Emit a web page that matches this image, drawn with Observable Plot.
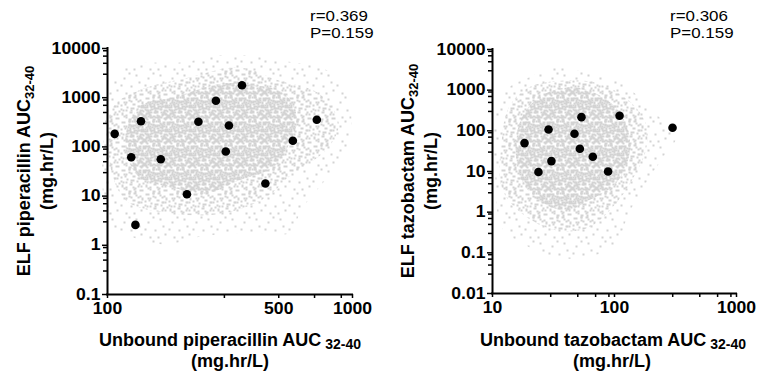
<!DOCTYPE html>
<html><head><meta charset="utf-8">
<script src="https://cdn.jsdelivr.net/npm/d3@7"></script>
<script src="https://cdn.jsdelivr.net/npm/@observablehq/plot@0.6"></script>
<style>
html,body{margin:0;padding:0;background:#fff;}
#wrap{position:relative;width:759px;height:373px;overflow:hidden;background:#fff;}
#wrap > svg{position:absolute;top:0;overflow:visible;}
</style></head><body>
<svg width="0" height="0" style="position:absolute;left:0;top:0">
<defs>
<g id="dotsA" fill="#d3d3d3"><rect x="1" y="1" width="2" height="2"/><rect x="8" y="3" width="2" height="2"/><rect x="12" y="7" width="2" height="2"/><rect x="21" y="5" width="2" height="2"/><rect x="6" y="10" width="2" height="2"/><rect x="16" y="12" width="2" height="2"/><rect x="22" y="14" width="2" height="2"/><rect x="1" y="16" width="2" height="2"/><rect x="12" y="18" width="2" height="2"/><rect x="19" y="21" width="2" height="2"/><rect x="8" y="22" width="2" height="2"/><rect x="14" y="22" width="2" height="2"/><rect x="4" y="7" width="2" height="2"/><rect x="17" y="4" width="2" height="2"/><rect x="9" y="15" width="2" height="2"/><rect x="20" y="9" width="2" height="2"/><rect x="3" y="19" width="2" height="2"/><rect x="13" y="0" width="2" height="2"/><rect x="10" y="11" width="2" height="2"/><rect x="17" y="17" width="2" height="2"/><rect x="5" y="13" width="2" height="2"/></g>
<g id="dotsB" fill="#d3d3d3"><rect x="0" y="3" width="2" height="2"/><rect x="4" y="1" width="2" height="2"/><rect x="7" y="6" width="2" height="2"/><rect x="11" y="0" width="2" height="2"/><rect x="14" y="4" width="2" height="2"/><rect x="17" y="7" width="2" height="2"/><rect x="22" y="1" width="2" height="2"/><rect x="20" y="10" width="2" height="2"/><rect x="2" y="8" width="2" height="2"/><rect x="9" y="9" width="2" height="2"/><rect x="13" y="11" width="2" height="2"/><rect x="16" y="15" width="2" height="2"/><rect x="22" y="18" width="2" height="2"/><rect x="3" y="13" width="2" height="2"/><rect x="6" y="15" width="2" height="2"/><rect x="10" y="14" width="2" height="2"/><rect x="1" y="20" width="2" height="2"/><rect x="5" y="18" width="2" height="2"/><rect x="10" y="20" width="2" height="2"/><rect x="13" y="19" width="2" height="2"/><rect x="16" y="20" width="2" height="2"/><rect x="20" y="22" width="2" height="2"/><rect x="18" y="17" width="2" height="2"/><rect x="18" y="2" width="2" height="2"/><rect x="6" y="3" width="2" height="2"/><rect x="10" y="5" width="2" height="2"/><rect x="15" y="9" width="2" height="2"/><rect x="21" y="13" width="2" height="2"/><rect x="0" y="10" width="2" height="2"/><rect x="7" y="12" width="2" height="2"/><rect x="12" y="15" width="2" height="2"/><rect x="19" y="15" width="2" height="2"/><rect x="2" y="16" width="2" height="2"/><rect x="7" y="20" width="2" height="2"/><rect x="22" y="20" width="2" height="2"/><rect x="19" y="5" width="2" height="2"/></g>
<pattern id="cloudSparse" patternUnits="userSpaceOnUse" width="24" height="24">
<g fill="#d3d3d3"><rect x="3" y="5" width="2" height="2"/><rect x="15" y="2" width="2" height="2"/><rect x="10" y="13" width="2" height="2"/><rect x="20" y="17" width="2" height="2"/><rect x="5" y="20" width="2" height="2"/><rect x="18" y="9" width="2" height="2"/><rect x="8" y="0" width="2" height="2"/><rect x="13" y="20" width="2" height="2"/><rect x="0" y="12" width="2" height="2"/></g>
</pattern>
<pattern id="cloudMid" patternUnits="userSpaceOnUse" width="24" height="24">
<use href="#dotsA"/>
<use href="#dotsA" transform="matrix(-1,0,0,-1,24,24)"/>
</pattern>
<pattern id="cloudCore" patternUnits="userSpaceOnUse" width="24" height="24">
<use href="#dotsB"/>
<use href="#dotsB" transform="matrix(-1,0,0,1,24,0)"/>
<use href="#dotsA" transform="matrix(1,0,0,-1,0,24)"/>
</pattern>
</defs></svg>
<div id="wrap"></div>
<script>
// ---------- Data ----------
// Observed patients, piperacillin panel
const pipObsX = [107, 137, 125, 165, 211, 130, 235, 277, 354, 313, 304, 441, 571, 715];
const pipObsY = [184, 333, 61.8, 56, 10.9, 2.6, 324, 865, 1795, 272, 80.7, 18, 133, 356];
// Observed patients, tazobactam panel
const tazObsX = [18.3, 28.8, 53.6, 110, 299, 47, 52, 66.4, 30.4, 23.8, 88.6];
const tazObsY = [49.9, 108, 217, 235, 119, 85, 36.3, 23.1, 18, 9.7, 10];

// Simulated cloud outlines (outer sparse / middle / dense core), piperacillin
const pipOuterX = [100.3, 111, 137, 199, 310, 510, 815, 966, 984, 896, 742, 615, 560, 385, 240, 173, 124.5, 101.2];
const pipOuterY = [877, 3251, 4955, 5192, 7551, 5702, 3251, 877, 215, 52.9, 16.4, 5.1, 1.82, 1.82, 1.51, 1.04, 1.51, 2.9];
const pipMidX = [105, 134, 215, 343, 500, 729, 879, 778, 570, 443, 295, 185, 119, 101.2];
const pipMidY = [632, 1401, 2575, 4111, 2237, 1217, 299, 84.5, 28.8, 9.4, 4.43, 4.43, 8.14, 60.9];
const pipCoreX = [119, 137, 185, 295, 403, 500, 570, 592, 534, 473, 343, 252, 185, 137, 122];
const pipCoreY = [187, 694, 1009, 1944, 1770, 1401, 762, 299, 84.5, 38.1, 20.7, 11.3, 15, 22.8, 52.9];

// Simulated cloud outlines, tazobactam
const tazOuterX = [10.6, 13.6, 19.8, 33, 61.5, 114.8, 191, 318, 263, 180.6, 131, 102.5, 61.5, 33, 17.4, 11.9, 10.6];
const tazOuterY = [268, 1165, 2051, 3611, 2573, 1462, 376, 68.8, 27.9, 5.1, 0.93, 0.171, 0.0775, 0.0775, 0.171, 0.42, 6.04];
const tazMidX = [11.9, 13.6, 19.8, 39.9, 74.3, 131, 180.6, 180.6, 138.6, 102.5, 61.5, 33, 17.4, 11.9];
const tazMidY = [58, 376, 1165, 1731, 1462, 558, 152, 33, 6.04, 1.64, 0.42, 0.357, 0.93, 4.07];
const tazCoreX = [24, 39.9, 61.5, 102.5, 131, 131, 102.5, 61.5, 39.9, 24, 17.4, 15.5, 17.4];
const tazCoreY = [662, 1165, 984, 376, 86.3, 22.2, 5.1, 1.95, 1.1, 1.95, 6.04, 33, 213];

// Axis ticks
const pipXMajor = [100, 500, 1000];
const pipXMinor = [300, 700, 900];
const pipYMajor = [0.1, 1, 10, 100, 1000, 10000];
const pipYMinor = [0.3, 0.5, 0.7, 0.9, 3, 5, 7, 9, 30, 50, 70, 90, 300, 500, 700, 900, 3000, 5000, 7000, 9000];
const tazXMajor = [10, 100, 1000];
const tazXMinor = [30, 50, 70, 90, 300, 500, 700, 900];
const tazYMajor = [0.01, 0.1, 1, 10, 100, 1000, 10000];
const tazYMinor = [0.03, 0.05, 0.07, 0.09, 0.3, 0.5, 0.7, 0.9, 3, 5, 7, 9, 30, 50, 70, 90, 300, 500, 700, 900, 3000, 5000, 7000, 9000];

// Texts
const pipStats = ["r=0.369", "P=0.159"];
const tazStats = ["r=0.306", "P=0.159"];

const zip = (xs, ys) => xs.map((x, i) => ({x, y: ys[i]}));

function panel({width, ml, mr, mt, mb, xDomain, yDomain, outer, mid, core, obs, xMajor, xMinor, yMajor, yMinor}) {
  const fmt = d => String(d);
  return Plot.plot({
    width, height: 373,
    marginLeft: ml, marginRight: mr, marginTop: mt, marginBottom: mb,
    style: {fontFamily: "'Liberation Sans', Arial, sans-serif", fontSize: "16px", fontWeight: "bold", color: "black", background: "transparent", overflow: "visible"},
    x: {type: "log", domain: xDomain, label: null},
    y: {type: "log", domain: yDomain, label: null},
    marks: [
      Plot.line(outer, {x: "x", y: "y", curve: "catmull-rom-closed", fill: "url(#cloudSparse)", stroke: "none"}),
      Plot.line(mid, {x: "x", y: "y", curve: "catmull-rom-closed", fill: "url(#cloudMid)", stroke: "none"}),
      Plot.line(core, {x: "x", y: "y", curve: "catmull-rom-closed", fill: "url(#cloudCore)", stroke: "none"}),
      Plot.dot(obs, {x: "x", y: "y", r: 4.3, fill: "black", stroke: "none"}),
      Plot.axisX({ticks: xMinor, tickSize: 4, tickFormat: () => "", strokeWidth: 1.5, label: null}),
      Plot.axisX({ticks: xMajor, tickSize: 4, tickPadding: 4, tickFormat: fmt, strokeWidth: 1.5, label: null}),
      Plot.axisY({ticks: yMinor, tickSize: 4, tickFormat: () => "", strokeWidth: 1.5, label: null}),
      Plot.axisY({ticks: yMajor, tickSize: 5, tickPadding: 2, tickFormat: fmt, strokeWidth: 1.5, label: null}),
      Plot.ruleX([xDomain[0]], {stroke: "black", strokeWidth: 2, strokeLinecap: "square"}),
      Plot.ruleY([yDomain[0]], {stroke: "black", strokeWidth: 2, strokeLinecap: "square"})
    ]
  });
}

// widen Plot's own tick labels horizontally, keeping their anchor point
function stretchTexts(svg, s) {
  d3.select(svg).selectAll("text").each(function() {
    const t = d3.select(this);
    if (!t.text()) return;
    let x = parseFloat(t.attr("x"));
    if (!isFinite(x)) x = 0;
    const tr = t.attr("transform") || "";
    t.attr("transform", `${tr} translate(${x},0) scale(${s},1) translate(${-x},0)`.trim());
  });
}

function addLabel(svg, {x, y, main, sub, size, subSize, subDy, rotate, sx, weight = "bold", anchor = "middle"}) {
  const t = d3.select(svg).append("text")
    .attr("transform", `translate(${x},${y})${rotate ? ` rotate(${rotate})` : ""} scale(${sx || 1},1)`)
    .attr("text-anchor", anchor)
    .attr("font-family", "'Liberation Sans', Arial, sans-serif")
    .attr("font-weight", weight)
    .attr("font-size", size)
    .attr("fill", "black");
  t.append("tspan").text(main);
  if (sub) t.append("tspan").attr("font-size", subSize).attr("dy", subDy).text(sub);
  return t;
}

const wrap = document.getElementById("wrap");

// ---------- Left panel: piperacillin ----------
const left = panel({
  width: 380, ml: 107, mr: 28, mt: 48, mb: 79,
  xDomain: [100, 1000], yDomain: [0.1, 10000],
  outer: zip(pipOuterX, pipOuterY), mid: zip(pipMidX, pipMidY), core: zip(pipCoreX, pipCoreY),
  obs: zip(pipObsX, pipObsY),
  xMajor: pipXMajor, xMinor: pipXMinor, yMajor: pipYMajor, yMinor: pipYMinor
});
left.style.left = "0px";
wrap.appendChild(left);
stretchTexts(left, 1.1);
addLabel(left, {x: 230, y: 346, main: "Unbound piperacillin AUC", sub: " 32-40", size: 18, subSize: 14, subDy: 3});
addLabel(left, {x: 230, y: 367, main: "(mg.hr/L)", size: 18});
addLabel(left, {x: 30, y: 171, main: "ELF piperacillin AUC", sub: "32-40", size: 18, subSize: 13, subDy: 4, rotate: -90});
addLabel(left, {x: 53, y: 171, main: "(mg.hr/L)", size: 18, rotate: -90});
addLabel(left, {x: 310, y: 21, main: pipStats[0], size: 15, sx: 1.13, weight: "normal", anchor: "start"});
addLabel(left, {x: 310, y: 38, main: pipStats[1], size: 15, sx: 1.13, weight: "normal", anchor: "start"});

// ---------- Right panel: tazobactam ----------
const right = panel({
  width: 379, ml: 112, mr: 23, mt: 49, mb: 80,
  xDomain: [10, 1000], yDomain: [0.01, 10000],
  outer: zip(tazOuterX, tazOuterY), mid: zip(tazMidX, tazMidY), core: zip(tazCoreX, tazCoreY),
  obs: zip(tazObsX, tazObsY),
  xMajor: tazXMajor, xMinor: tazXMinor, yMajor: tazYMajor, yMinor: tazYMinor
});
right.style.left = "380px";
wrap.appendChild(right);
stretchTexts(right, 1.1);
addLabel(right, {x: 233, y: 346, main: "Unbound tazobactam AUC", sub: " 32-40", size: 18, subSize: 14, subDy: 3});
addLabel(right, {x: 232, y: 367, main: "(mg.hr/L)", size: 18});
addLabel(right, {x: 34, y: 171, main: "ELF tazobactam AUC", sub: "32-40", size: 18, subSize: 13, subDy: 4, rotate: -90});
addLabel(right, {x: 57, y: 171, main: "(mg.hr/L)", size: 18, rotate: -90});
addLabel(right, {x: 290, y: 21, main: tazStats[0], size: 15, sx: 1.13, weight: "normal", anchor: "start"});
addLabel(right, {x: 290, y: 38, main: tazStats[1], size: 15, sx: 1.13, weight: "normal", anchor: "start"});
</script>
</body></html>
